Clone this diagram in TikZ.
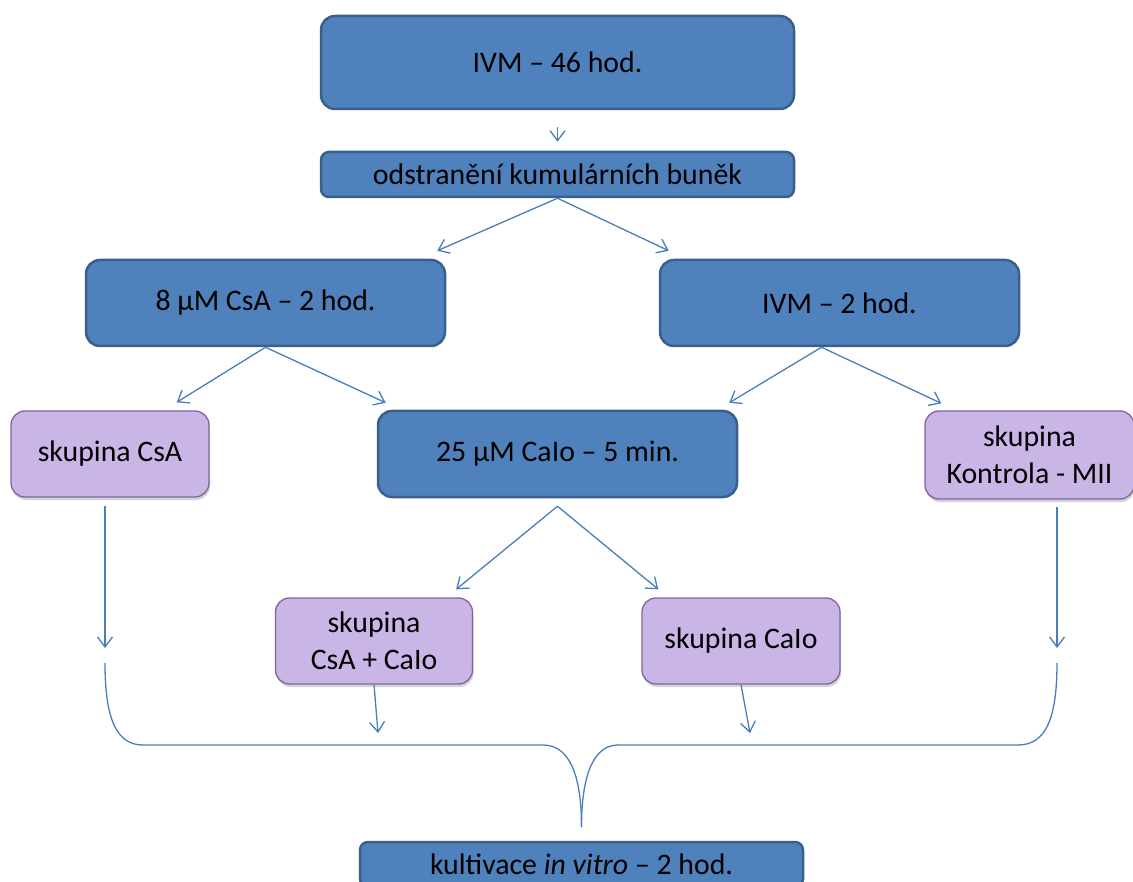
\documentclass[tikz,border=0pt]{standalone}
\usepackage{fontspec}
\setmainfont{Carlito}
\usetikzlibrary{arrows.meta,shadows}
\definecolor{bfill}{HTML}{4F81BD}
\definecolor{bdraw}{HTML}{3A5F8B}
\definecolor{pfill}{HTML}{C9B5E6}
\definecolor{pdraw}{HTML}{8064A2}
\definecolor{lcol}{HTML}{4A7EBB}
\begin{document}
\begin{tikzpicture}[x=1pt,y=-1pt,
  txt/.style={align=center, inner sep=0pt, font=\fontsize{29.8}{37}\selectfont},
  bluebox/.style={txt, draw=bdraw, fill=bfill, line width=2.5pt, rounded corners=14pt},
  purplebox/.style={txt, draw=pdraw, fill=pfill, line width=1.3pt, rounded corners=14pt,
    drop shadow={shadow xshift=1pt, shadow yshift=-3pt, opacity=0.35}},
  conn/.style={draw=lcol, line width=1.3pt},
  arr/.style={conn, -{Straight Barb[length=10pt,width=15pt]}},
]
\useasboundingbox (0,0) rectangle (1133,882);

\node[bluebox, minimum width=473pt, minimum height=93pt] (ivm46) at (557.5,62.5) {IVM – 46 hod.};
\node[bluebox, rounded corners=8pt, minimum width=473pt, minimum height=45pt] (odst) at (557.5,174.5) {odstranění kumulárních buněk};
\node[bluebox, minimum width=359pt, minimum height=86pt] (b8) at (265.5,303) {8 µM CsA – 2 hod.};
\node[bluebox, minimum width=359pt, minimum height=86pt] (ivm2) at (839.5,303) {IVM – 2 hod.};
\node[purplebox, minimum width=198pt, minimum height=86pt] (skcsa) at (110,454) {skupina CsA};
\node[bluebox, minimum width=359pt, minimum height=86pt] (caio) at (557.5,454) {25 µM CaIo – 5 min.};
\node[purplebox, minimum width=209pt, minimum height=88pt] (kontr) at (1029.5,455) {skupina\\Kontrola - MII};
\node[purplebox, minimum width=197pt, minimum height=86pt] (skcc) at (374,641) {skupina\\CsA + CaIo};
\node[purplebox, minimum width=198pt, minimum height=86pt] (skcaio) at (741,641) {skupina CaIo};
\node[bluebox, rounded corners=8pt, minimum width=443pt, minimum height=45pt] (kult) at (581.5,864.5) {kultivace \textit{in vitro} – 2 hod.};

\coordinate (bl) at (105,663);
\coordinate (br) at (1057,663);
\coordinate (tip) at (581.5,827);
\coordinate (ea) at (378,733);
\coordinate (eb) at (750,733);

\draw[arr, shorten <=17pt, shorten >=9pt] (ivm46.south) -- (odst.north);
\draw[arr] (odst.south) -- ([xshift=-9pt,yshift=8pt]b8.north east);
\draw[arr] (odst.south) -- ([xshift=10pt,yshift=8pt]ivm2.north west);
\draw[arr] (b8.south) -- ([xshift=-33pt,yshift=8pt]skcsa.north east);
\draw[arr] (b8.south) -- ([xshift=9pt,yshift=7pt]caio.north west);
\draw[arr] ([xshift=-18pt]ivm2.south) -- ([xshift=-9pt,yshift=7pt]caio.north east);
\draw[arr] ([xshift=-18pt]ivm2.south) -- ([xshift=17pt,yshift=7pt]kontr.north west);
\draw[arr] ([yshift=-8pt]caio.south) -- ([xshift=-17pt,yshift=8pt]skcc.north east);
\draw[arr] ([yshift=-8pt]caio.south) -- ([xshift=17pt,yshift=8pt]skcaio.north west);
\draw[arr] ([xshift=-5pt,yshift=-8pt]skcsa.south) -- ([yshift=15pt]bl);
\draw[arr] ([xshift=27.5pt,yshift=-7pt]kontr.south) -- ([yshift=15pt]br);
\draw[arr] (skcc.south) -- (ea);
\draw[arr] (skcaio.south) -- (eb);

\draw[conn] (bl) .. controls (105,718) and (116,745) .. (143,745) -- (543,745)
  .. controls (568,745) and (581.5,772) .. (tip);
\draw[conn] (br) .. controls (1057,718) and (1046,745) .. (1018,745) -- (618,745)
  .. controls (595,745) and (581.5,772) .. (tip);
\end{tikzpicture}
\end{document}
